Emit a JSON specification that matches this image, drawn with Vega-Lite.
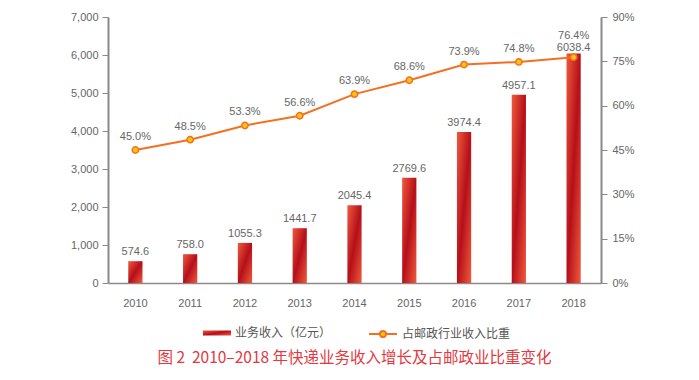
{
  "$schema": "https://vega.github.io/schema/vega-lite/v6.json",
  "width": 493,
  "height": 266,
  "autosize": {"type": "none"},
  "padding": {"left": 108, "top": 17, "right": 98, "bottom": 97},
  "background": "white",
  "config": {
    "view": {"stroke": null},
    "font": "Liberation Sans",
    "axis": {
      "labelFont": "Liberation Sans",
      "labelColor": "#666666",
      "labelFontSize": 11,
      "grid": false,
      "domainColor": "#8a8a8a",
      "tickColor": "#8a8a8a",
      "title": null
    },
    "legend": {
      "labelFont": "Noto Sans CJK SC",
      "labelFontSize": 12,
      "labelColor": "#555555",
      "padding": 0
    },
    "title": {"font": "Noto Sans CJK SC"}
  },
  "title": {
    "text": "图 2\u00a0 2010–2018 年快递业务收入增长及占邮政业比重变化",
    "orient": "bottom",
    "anchor": "middle",
    "color": "#e3393f",
    "fontSize": 15.5,
    "fontWeight": "normal",
    "offset": 9
  },
  "data": {
    "values": [
      {"year": "2010", "revenue": 574.6, "share": 0.450},
      {"year": "2011", "revenue": 758.0, "share": 0.485},
      {"year": "2012", "revenue": 1055.3, "share": 0.533},
      {"year": "2013", "revenue": 1441.7, "share": 0.566},
      {"year": "2014", "revenue": 2045.4, "share": 0.639},
      {"year": "2015", "revenue": 2769.6, "share": 0.686},
      {"year": "2016", "revenue": 3974.4, "share": 0.739},
      {"year": "2017", "revenue": 4957.1, "share": 0.748},
      {"year": "2018", "revenue": 6038.4, "share": 0.764}
    ]
  },
  "encoding": {
    "x": {
      "field": "year",
      "type": "ordinal",
      "scale": {"paddingInner": 0.74, "paddingOuter": 0.37},
      "axis": {"labelAngle": 0, "ticks": false, "labelPadding": 14, "domainWidth": 1.5}
    }
  },
  "layer": [
    {
      "encoding": {
        "y": {
          "field": "revenue",
          "type": "quantitative",
          "scale": {"domain": [0, 7000]},
          "axis": {
            "values": [0, 1000, 2000, 3000, 4000, 5000, 6000, 7000],
            "format": ",d",
            "tickSize": 6,
            "labelPadding": 4,
            "domainWidth": 2
          }
        }
      },
      "layer": [
        {
          "mark": {
            "type": "bar",
            "strokeWidth": 0,
            "fill": {
              "gradient": "linear",
              "x1": 0, "y1": 0, "x2": 1, "y2": 1,
              "stops": [
                {"offset": 0, "color": "#f05a3c"},
                {"offset": 0.5, "color": "#b50f1a"},
                {"offset": 1, "color": "#f05a3c"}
              ]
            }
          },
          "encoding": {
            "stroke": {
              "datum": "业务收入（亿元）",
              "type": "nominal",
              "scale": {"range": ["#c8191e"]},
              "legend": {
                "title": null,
                "orient": "none",
                "legendX": 95,
                "legendY": 302,
                "symbolType": "M-1,-0.18H1V0.18H-1Z",
                "symbolSize": 784,
                "symbolStrokeWidth": 0,
                "labelOffset": 4
              }
            }
          }
        },
        {
          "mark": {
            "type": "text",
            "baseline": "bottom",
            "dy": {"expr": "datum.year === '2018' ? -1 : -4"},
            "color": "#666666",
            "fontSize": 11
          },
          "encoding": {
            "text": {"field": "revenue", "type": "quantitative", "format": ".1f"}
          }
        }
      ]
    },
    {
      "encoding": {
        "y": {
          "field": "share",
          "type": "quantitative",
          "scale": {"domain": [0, 0.9]},
          "axis": {
            "orient": "right",
            "values": [0, 0.15, 0.3, 0.45, 0.6, 0.75, 0.9],
            "format": ".0%",
            "tickSize": 6,
            "labelPadding": 5,
            "domainWidth": 2
          }
        }
      },
      "layer": [
        {
          "mark": {"type": "line", "strokeWidth": 2, "color": "#f37021"},
          "encoding": {}
        },
        {
          "mark": {"type": "point", "filled": true, "fill": "#ffc20e", "strokeWidth": 1.5, "size": 40, "opacity": 1},
          "encoding": {
            "stroke": {
              "datum": "占邮政行业收入比重",
              "type": "nominal",
              "scale": {"range": ["#f37021"]},
              "legend": {
                "title": null,
                "orient": "none",
                "legendX": 260,
                "legendY": 302,
                "symbolType": "M-1,0H-0.22M0.22,0H1M0.22,0A0.22,0.22,0,1,1,-0.22,0A0.22,0.22,0,1,1,0.22,0Z",
                "symbolSize": 784,
                "symbolStrokeWidth": 2,
                "symbolFillColor": "#ffc20e",
                "labelOffset": 4
              }
            }
          }
        },
        {
          "mark": {
            "type": "text",
            "baseline": "bottom",
            "dy": {"expr": "datum.year === '2018' ? -16 : -8"},
            "color": "#666666",
            "fontSize": 11
          },
          "encoding": {
            "text": {"field": "share", "type": "quantitative", "format": ".1%"}
          }
        }
      ]
    }
  ],
  "resolve": {"scale": {"y": "independent", "stroke": "independent"}}
}
